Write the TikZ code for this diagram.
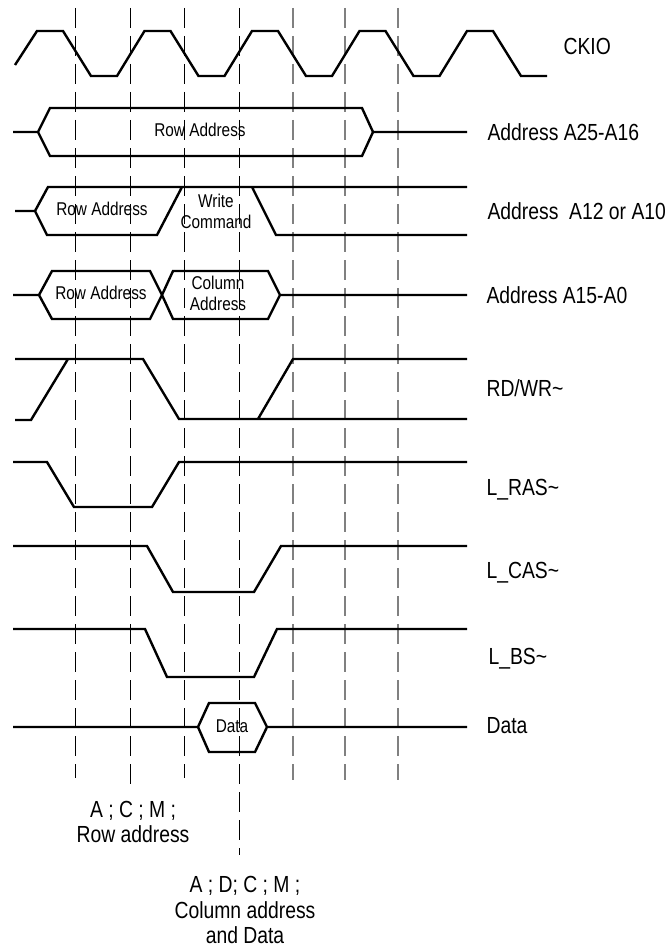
\documentclass[tikz,border=0pt]{standalone}
\usepackage{fontspec}
\setmainfont[FakeStretch=0.83]{Liberation Sans}
\begin{document}
\begin{tikzpicture}[x=1pt,y=-1pt,
    sig/.style={line width=2.4pt},
    tick/.style={line width=0.9pt, dash pattern=on 20pt off 8pt},
    tickgray/.style={tick, line width=1.4pt, gray},
    signame/.style={anchor=base west, font=\fontsize{23.3}{26}\selectfont},
    inlabel/.style={align=center, font=\fontsize{18.5}{21}\selectfont},
    cyclenote/.style={align=center, font=\fontsize{23.3}{25.5}\selectfont}]
  \useasboundingbox (0,0) rectangle (668,947);
  % sampling edges
  \foreach \x/\e in {75/778,130/785,184/778,239/855}
    \draw[tick] (\x,8) -- (\x,\e);
  \foreach \x in {293,345,398}
    \draw[tickgray] (\x,8) -- (\x,780);
  % CKIO
  \draw[sig] (15,65) \foreach \k in {0,...,4}{
    -- ({37+107.5*\k},31) -- ({63+107.5*\k},31) -- ({91+107.5*\k},76) -- ({117+107.5*\k},76)};
  % Address A25-A16
  \draw[sig] (13,132) -- (38,132) -- (50,108) -- (362,108) -- (373,132) -- (467,132)
    (38,132) -- (50,156) -- (362,156) -- (373,132);
  \node[inlabel] (rowa) at (200,130) {Row Address};
  % Address A12 or A10
  \draw[sig] (15,211) -- (35,211) -- (48,187) -- (467,187)
    (35,211) -- (47,235) -- (157,235) -- (182,187)
    (252,187) -- (276,235) -- (467,235);
  \node[inlabel] (rowb) at (102,209) {Row Address};
  \node[inlabel] (wcmd) at (216,211) {Write\\Command};
  % Address A15-A0
  \draw[sig] (13,295) -- (39,295) -- (52,271) -- (150,271) -- (162,295) -- (173,319)
    -- (268,319) -- (280,295) -- (467,295)
    (39,295) -- (52,319) -- (150,319) -- (162,295) -- (173,271) -- (268,271) -- (280,295);
  \node[inlabel] (rowc) at (101,293) {Row Address};
  \node[inlabel] (cola) at (218,293) {Column\\Address};
  % RD/WR~
  \draw[sig] (15,359) -- (143,359) -- (179,419) -- (467,419)
    (15,420) -- (31,420) -- (68,359)
    (258,419) -- (293,359) -- (467,359);
  % L_RAS~
  \draw[sig] (13,462) -- (47,462) -- (74,507) -- (152,507) -- (179,462) -- (467,462);
  % L_CAS~
  \draw[sig] (13,546) -- (147,546) -- (173,592) -- (254,592) -- (281,546) -- (467,546);
  % L_BS~
  \draw[sig] (13,629) -- (145,629) -- (167,677) -- (254,677) -- (277,629) -- (467,629);
  % Data
  \draw[sig] (13,727) -- (198,727) -- (209,703) -- (255,703) -- (267,727) -- (467,727)
    (198,727) -- (209,752) -- (255,752) -- (267,727);
  \node[inlabel] (dat) at (232,726) {Data};
  % signal names
  \node[signame] (ckio) at (560,55) {CKIO};
  \node[signame] (a25) at (484,140) {Address A25-A16};
  \node[signame] (a12) at (484,219) {Address~ A12 or A10};
  \node[signame] (a15) at (483,303) {Address A15-A0};
  \node[signame] (rdwr) at (483,396) {RD/WR\textasciitilde};
  \node[signame] (ras) at (483,495) {L\_RAS\textasciitilde};
  \node[signame] (cas) at (483,578) {L\_CAS\textasciitilde};
  \node[signame] (bs) at (485,664) {L\_BS\textasciitilde};
  \node[signame] (dname) at (483,733) {Data};
  % cycle notes
  \node[cyclenote] (rowt) at (133,822) {A ; C ; M ;\\Row address};
  \node[cyclenote] (colt) at (245,910) {A ; D; C ; M ;\\Column address\\and Data};
\end{tikzpicture}
\end{document}
